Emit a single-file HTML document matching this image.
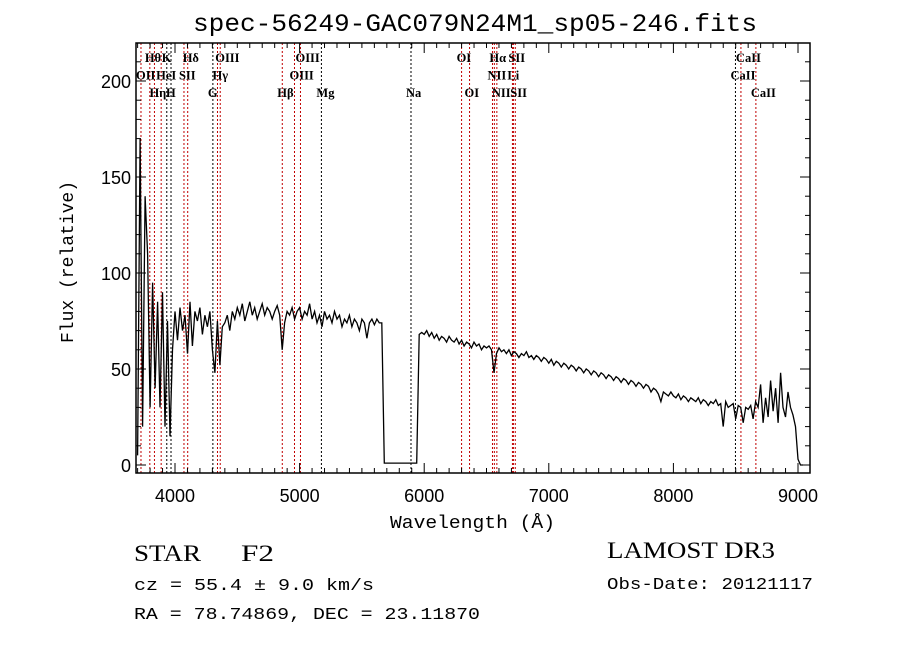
<!DOCTYPE html>
<html><head><meta charset="utf-8"><style>
html,body{margin:0;padding:0;background:#fff;}
svg{display:block;}
.t{font-family:"Liberation Serif",serif;fill:#000;}
.s{font-family:"Liberation Sans",sans-serif;fill:#000;}
.m{font-family:"Liberation Mono",monospace;fill:#000;}
.ln{font-family:"Liberation Serif",serif;font-size:12.5px;font-weight:bold;fill:#000;}
</style></head><body>
<svg id="chart" width="900" height="649" viewBox="0 0 900 649">
<rect x="0" y="0" width="900" height="649" fill="#fff"/>
<text class="m" x="193" y="31" font-size="25" textLength="564" lengthAdjust="spacingAndGlyphs">spec-56249-GAC079N24M1_sp05-246.fits</text>
<g id="lines"></g>
<g id="labels"></g>
<g id="series"></g>
<g id="axes"></g>
<text class="m" x="390" y="528" font-size="18" textLength="165" lengthAdjust="spacingAndGlyphs">Wavelength (Å)</text>
<text class="m" x="73" y="262" font-size="18" text-anchor="middle" transform="rotate(-90 73 262)">Flux (relative)</text>
<text class="t" x="134" y="561" font-size="23" textLength="67" lengthAdjust="spacingAndGlyphs">STAR</text>
<text class="t" x="241" y="561" font-size="23" textLength="33" lengthAdjust="spacingAndGlyphs">F2</text>
<text class="m" x="134" y="590" font-size="17" textLength="240" lengthAdjust="spacingAndGlyphs">cz = 55.4 ± 9.0 km/s</text>
<text class="m" x="134" y="619" font-size="17" textLength="346" lengthAdjust="spacingAndGlyphs">RA =  78.74869, DEC =  23.11870</text>
<text class="t" x="607" y="558" font-size="23" textLength="168" lengthAdjust="spacingAndGlyphs">LAMOST DR3</text>
<text class="m" x="607" y="589" font-size="17" textLength="206" lengthAdjust="spacingAndGlyphs">Obs-Date: 20121117</text>
</svg>
<script>
const waveStart=3700;
const waveStep=20;
const fluxes=[5,170,20,140,110,30,95,40,85,30,90,20,75,15,60,
80,65,82,70,78,58,85,62,80,75,82,68,78,72,80,60,48,75,52,72,
74,78,70,80,76,82,78,84,75,80,85,78,82,76,80,84,78,82,80,76,80,83,78,60,74,80,78,82,76,80,
82,76,80,78,84,76,80,74,78,72,80,76,78,74,80,76,78,72,76,74,78,72,76,74,70,76,74,66,74,76,73,76,74,
74,1,1,1,1,1,1,1,1,1,1,1,1,1,1,
68,69,68,70,67,69,66,68,65,67,66,64,67,65,64,66,63,65,62,64,63,61,64,62,63,60,62,61,62,60,
48,58,61,59,60,58,60,57,59,58,56,58,57,59,56,57,55,57,56,54,56,55,
53,55,52,54,53,51,53,52,50,52,51,49,51,50,48,50,49,47,49,48,46,48,47,45,47,46,44,46,45,43,45,44,42,44,43,41,43,42,40,42,41,38,40,39,37,33,38,37,36,38,
36,35,37,34,36,35,33,35,34,33,35,32,34,33,31,33,32,34,31,32,
20,33,30,31,32,24,31,30,22,30,29,31,24,33,30,42,22,35,25,44,28,40,22,48,30,25,38,30,26,20,3,0,0];
const lineWaves=[3727,3798,3835,3889,3934,3968,4072,4102,4304,4341,4363,4861,4959,5007,5175,5894,6300,6364,6548,6563,6583,6708,6716,6731,8498,8542,8662];
const lineNames=["OII","Hθ","Hη","HeI","K","H","SII","Hδ","G","Hγ","OIII","Hβ","OIII","OIII","Mg","Na","OI","OI","NII","Hα","NII","Li","SII","SII","CaII","CaII","CaII"];
const lineRows=[1,0,2,1,0,2,1,0,2,1,0,2,1,0,2,2,0,2,1,0,2,1,0,2,1,0,2];
const lineAbs=[0,0,0,0,1,1,0,0,1,0,0,0,0,0,1,1,0,0,0,0,0,0,0,0,1,0,0];
const xTicks=[4000,5000,6000,7000,8000,9000];
const yTicks=[0,50,100,150,200];

const L=136,R=810,T=43,B=473;
const xs=w=>175+(w-4000)*0.1246;
const ys=v=>465-1.92*v;
const NS="http://www.w3.org/2000/svg";
function mk(tag,attrs,parent){const e=document.createElementNS(NS,tag);for(const k in attrs)e.setAttribute(k,attrs[k]);parent.appendChild(e);return e;}

const gl=document.getElementById('lines'),glab=document.getElementById('labels');
lineWaves.forEach((w,i)=>{
  const l=mk('line',{x1:xs(w),x2:xs(w),y1:T,y2:B,stroke:lineAbs[i]?'#000':'#c00000','stroke-width':1,'stroke-dasharray':'2,2'},gl);
  
  
  const t=mk('text',{x:xs(w)-5,y:62+lineRows[i]*17.5,class:'ln'},glab);
  t.textContent=lineNames[i];
  
  
});

const gs=document.getElementById('series');
const pts=fluxes.map((f,i)=>xs(waveStart+i*waveStep).toFixed(1)+','+ys(f).toFixed(1));
const pl=mk('polyline',{points:pts.join(' '),fill:'none',stroke:'#000','stroke-width':1.3},gs);



const ga=document.getElementById('axes');
const fr=mk('rect',{x:L,y:T,width:R-L,height:B-T,fill:'none',stroke:'#000','stroke-width':1.5},ga);


for(let w=3700;w<=9100;w+=100){
  const x=xs(w);if(x<L||x>R)continue;
  const len=w%1000===0?10:5;
  mk('line',{x1:x,x2:x,y1:B,y2:B-len,stroke:'#000'},ga);
  mk('line',{x1:x,x2:x,y1:T,y2:T+len,stroke:'#000'},ga);
}
for(let v=0;v<=220;v+=10){
  const y=ys(v);if(y<T)continue;
  const len=v%50===0?10:5;
  mk('line',{x1:L,x2:L+len,y1:y,y2:y,stroke:'#000'},ga);
  mk('line',{x1:R,x2:R-len,y1:y,y2:y,stroke:'#000'},ga);
}
xTicks.forEach(v=>{
  const t=mk('text',{x:xs(v),y:502,'font-size':18,'text-anchor':'middle',class:'s'},ga);
  t.textContent=v;
  
  
});
yTicks.forEach(v=>{
  const t=mk('text',{x:131,y:ys(v)+7,'font-size':18,'text-anchor':'end',class:'s'},ga);
  t.textContent=v;
  
  
});
</script>
</body></html>
